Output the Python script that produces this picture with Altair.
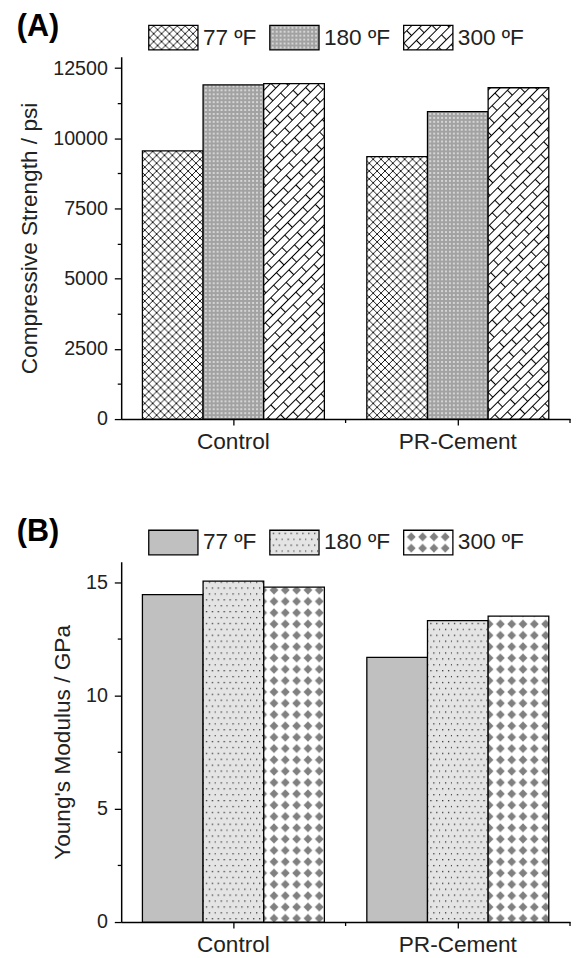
import altair as alt
import pandas as pd
import jinja2

# ---------------- data ----------------
groups = ["Control", "PR-Cement"]
temps = ["77 ºF", "180 ºF", "300 ºF"]

strength_control = [9550, 11900, 11950]
strength_pr = [9350, 10950, 11800]
strength_ticks = [0, 1250, 2500, 3750, 5000, 6250, 7500, 8750, 10000, 11250, 12500]

modulus_control = [14.45, 15.05, 14.78]
modulus_pr = [11.68, 13.3, 13.5]
modulus_ticks = [0, 2.5, 5, 7.5, 10, 12.5, 15]

fills_a = ["url(#pA77)", "url(#pA180)", "url(#pA300)"]
fills_b = ["#c0c0c0", "url(#pB180)", "url(#pB300)"]

FONT = "Liberation Sans"
TXT = "#222222"
W = 456
HA = 368
HB = 366


def make_df(ctrl, pr):
    return pd.DataFrame({
        "group": [groups[0]] * 3 + [groups[1]] * 3,
        "temp": temps * 2,
        "value": ctrl + pr,
    })


def panel(df, ymax, ticks, major, ytitle, tag, fills, H):
    xaxis = alt.Axis(labelAngle=0, labelFontSize=23, labelPadding=6,
                     tickSize=6, tickWidth=1.3, domainWidth=1.5,
                     labelFont=FONT, labelColor=TXT)
    bars = alt.Chart(df).mark_bar(stroke="black", strokeWidth=1.3).encode(
        x=alt.X("group:N", sort=groups, title=None,
                scale=alt.Scale(paddingInner=0, paddingOuter=0),
                axis=xaxis),
        xOffset=alt.XOffset("temp:N", sort=temps,
                            scale=alt.Scale(paddingInner=0, paddingOuter=0.35)),
        y=alt.Y("value:Q", title=ytitle,
                scale=alt.Scale(domain=[0, ymax], nice=False, zero=True),
                axis=alt.Axis(values=ticks, format="d",
                              labelExpr=f"datum.value % {major} === 0 ? datum.label : ''",
                              tickSize={"condition": {"test": f"datum.value % {major} === 0", "value": 7}, "value": 4},
                              tickWidth=1.3, domainWidth=1.5, labelFontSize=20,
                              labelPadding=7, titleFontSize=23, titlePadding=11)),
        fill=alt.Fill("temp:N", sort=temps,
                      scale=alt.Scale(domain=temps, range=fills),
                      legend=alt.Legend(orient="none", direction="horizontal",
                                        legendX=27, legendY=-46, title=None,
                                        symbolType="M-1,-0.5H1V0.5H-1Z", symbolSize=2500,
                                        symbolStrokeColor="black", symbolStrokeWidth=1.3,
                                        labelFontSize=23, labelOffset=4, columnPadding=10,
                                        padding=0, labelColor=TXT, labelFont=FONT)),
    )
    xticks = alt.Chart(pd.DataFrame({"group": groups})).mark_rule(
        color="black", strokeWidth=1.3).encode(
        x=alt.X("group:N", sort=groups, bandPosition=1, title=None, axis=xaxis),
        y=alt.value(H), y2=alt.value(H + 4),
    )
    label = alt.Chart(pd.DataFrame({"t": [tag]})).mark_text(
        font=FONT, fontSize=31, fontWeight="bold", align="left", baseline="middle",
        color="black").encode(
        text="t:N", x=alt.value(-106), y=alt.value(-30),
    )
    return alt.layer(bars, xticks, label).properties(width=W, height=H)


pa = panel(make_df(strength_control, strength_pr), 12900, strength_ticks, 2500,
           "Compressive Strength / psi", "(A)", fills_a, HA)
pb = panel(make_df(modulus_control, modulus_pr), 15.9, modulus_ticks, 5,
           "Young's Modulus / GPa", "(B)", fills_b, HB)

chart = alt.vconcat(pa, pb, spacing=64).resolve_scale(fill="independent").properties(
    padding={"left": 9, "top": -4, "right": 0, "bottom": 2}
).configure_view(stroke=None).configure_axis(
    labelFont=FONT, titleFont=FONT, labelColor=TXT, titleColor=TXT,
    titleFontWeight="normal", grid=False, domainColor="black", tickColor="black",
).configure_legend(labelFont=FONT)

PATTERNS = """
<svg width="0" height="0" style="position:absolute">
<defs>
<pattern id="pA77" patternUnits="userSpaceOnUse" width="8" height="8">
  <rect width="8" height="8" fill="white"/>
  <path d="M0,0L8,8M8,0L0,8" stroke="black" stroke-width="0.9"/>
</pattern>
<pattern id="pA180" patternUnits="userSpaceOnUse" width="4" height="4">
  <rect width="4" height="4" fill="#a2a2a2"/>
  <circle cx="2" cy="2" r="1.1" fill="#e2e2e2"/>
</pattern>
<pattern id="pA300" patternUnits="userSpaceOnUse" width="22" height="14" patternTransform="rotate(-45)">
  <rect width="22" height="14" fill="white"/>
  <path d="M0,0.5H22M0,7.5H22M0.5,0V7.5M11.5,7.5V14" stroke="black" stroke-width="1.1"/>
</pattern>
<pattern id="pB180" patternUnits="userSpaceOnUse" width="12" height="12">
  <rect width="12" height="12" fill="#e4e4e4"/>
  <rect x="2" y="2" width="1.3" height="1.3" fill="#333"/>
  <rect x="8" y="2" width="1.3" height="1.3" fill="#333"/>
  <rect x="5" y="8" width="1.3" height="1.3" fill="#333"/>
  <rect x="11" y="8" width="1.3" height="1.3" fill="#333"/>
</pattern>
<pattern id="pB300" patternUnits="userSpaceOnUse" width="11.5" height="11.5">
  <rect width="11.5" height="11.5" fill="white"/>
  <path d="M5.75,1.3L10.2,5.75L5.75,10.2L1.3,5.75Z" fill="#808080"/>
</pattern>
</defs>
</svg>
"""

TEMPLATE = jinja2.Template("""<!DOCTYPE html>
<html>
<head>
<meta charset="utf-8">
<style>#{{ output_div }}.vega-embed { width: 100%; display: flex; }</style>
<script type="text/javascript" src="{{ base_url }}/vega@{{ vega_version }}"></script>
<script type="text/javascript" src="{{ base_url }}/vega-lite@{{ vegalite_version }}"></script>
<script type="text/javascript" src="{{ base_url }}/vega-embed@{{ vegaembed_version }}"></script>
</head>
<body>
""" + PATTERNS + """
<div id="{{ output_div }}"></div>
<script type="text/javascript">
vegaEmbed("#{{ output_div }}", {{ spec }}, {{ embed_options }}).catch(console.error);
</script>
</body>
</html>
""")

chart.save("out.html", embed_options={"renderer": "svg", "actions": False}, template=TEMPLATE)
